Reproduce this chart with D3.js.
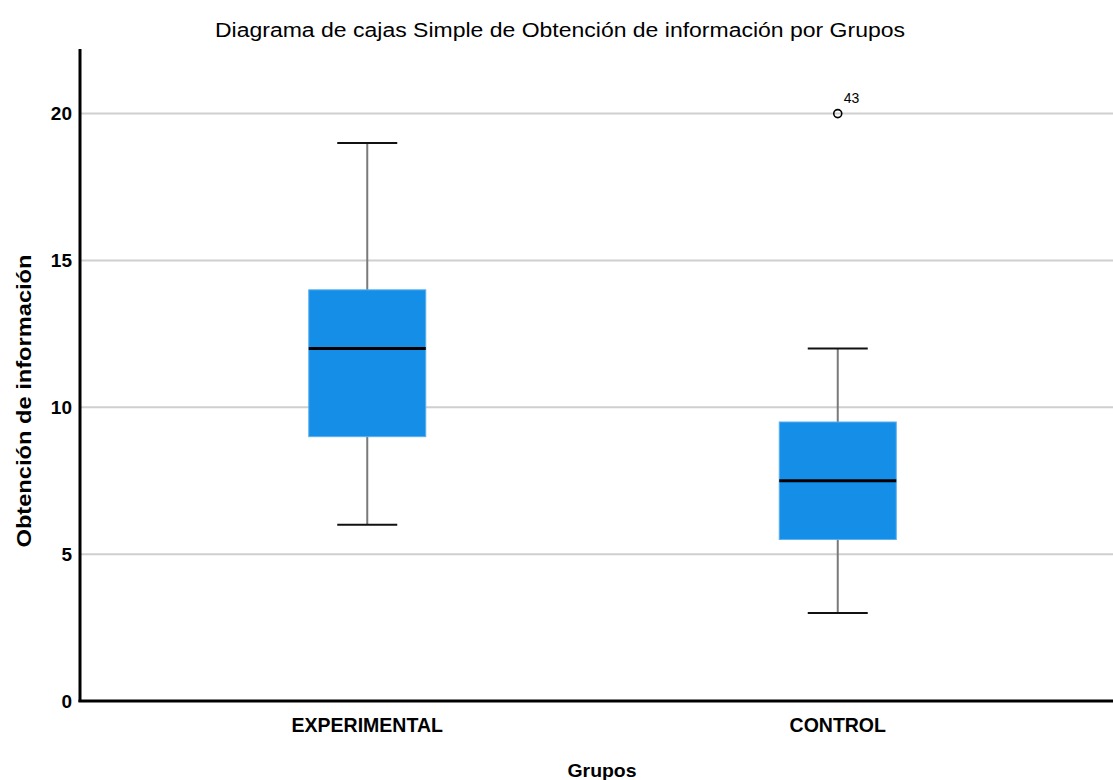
<!DOCTYPE html>
<html>
<head>
<meta charset="utf-8">
<script src="https://cdn.jsdelivr.net/npm/d3@7"></script>
<style>
  body { margin: 0; background: #fff; }
  text { font-family: "Liberation Sans", Arial, sans-serif; fill: #000; }
</style>
</head>
<body>
<div id="chart"></div>
<script>
// Box plot data
var groups = ["EXPERIMENTAL", "CONTROL"];
var whiskerLow = [6, 3];
var q1 = [9, 5.5];
var median = [12, 7.5];
var q3 = [14, 9.5];
var whiskerHigh = [19, 12];
var outliers = [{group: "CONTROL", value: 20, label: "43"}];
var yTicks = [0, 5, 10, 15, 20];

var width = 1113, height = 780;
var svg = d3.select("#chart").append("svg")
    .attr("width", width)
    .attr("height", height);

var x = d3.scaleBand().domain(groups).range([132, 1073]);
var y = d3.scaleLinear().domain([0, 22.2]).range([701, 49]);

var boxW = 117, capW = 60;

// gridlines
svg.append("g").selectAll("line")
  .data(yTicks.filter(function(d) { return d > 0; }))
  .enter().append("line")
  .attr("x1", 80).attr("x2", width)
  .attr("y1", function(d) { return y(d); })
  .attr("y2", function(d) { return y(d); })
  .style("stroke", "#cfcfcf")
  .style("stroke-width", 2);

// y tick labels
svg.append("g").selectAll("text")
  .data(yTicks)
  .enter().append("text")
  .attr("x", 72)
  .attr("y", function(d) { return y(d); })
  .attr("dy", "0.36em")
  .attr("text-anchor", "end")
  .style("font-size", "19px")
  .style("font-weight", "bold")
  .text(function(d) { return d; });

// boxes
var box = svg.append("g").selectAll("g")
  .data(groups)
  .enter().append("g");

box.append("line")
  .attr("x1", function(d) { return x(d) + x.bandwidth() / 2; })
  .attr("x2", function(d) { return x(d) + x.bandwidth() / 2; })
  .attr("y1", function(d, i) { return y(whiskerLow[i]); })
  .attr("y2", function(d, i) { return y(whiskerHigh[i]); })
  .style("stroke", "#7a7a7a")
  .style("stroke-width", 2);

box.append("line")
  .attr("x1", function(d) { return x(d) + x.bandwidth() / 2 - capW / 2; })
  .attr("x2", function(d) { return x(d) + x.bandwidth() / 2 + capW / 2; })
  .attr("y1", function(d, i) { return y(whiskerLow[i]); })
  .attr("y2", function(d, i) { return y(whiskerLow[i]); })
  .style("stroke", "#111")
  .style("stroke-width", 2);

box.append("line")
  .attr("x1", function(d) { return x(d) + x.bandwidth() / 2 - capW / 2; })
  .attr("x2", function(d) { return x(d) + x.bandwidth() / 2 + capW / 2; })
  .attr("y1", function(d, i) { return y(whiskerHigh[i]); })
  .attr("y2", function(d, i) { return y(whiskerHigh[i]); })
  .style("stroke", "#111")
  .style("stroke-width", 2);

box.append("rect")
  .attr("x", function(d) { return x(d) + x.bandwidth() / 2 - boxW / 2; })
  .attr("width", boxW)
  .attr("y", function(d, i) { return y(q3[i]); })
  .attr("height", function(d, i) { return y(q1[i]) - y(q3[i]); })
  .style("fill", "#148ee6")
  .style("stroke", "#5ab0ee")
  .style("stroke-width", 1);

box.append("line")
  .attr("x1", function(d) { return x(d) + x.bandwidth() / 2 - boxW / 2; })
  .attr("x2", function(d) { return x(d) + x.bandwidth() / 2 + boxW / 2; })
  .attr("y1", function(d, i) { return y(median[i]); })
  .attr("y2", function(d, i) { return y(median[i]); })
  .style("stroke", "#000")
  .style("stroke-width", 3);

// outliers
var out = svg.append("g").selectAll("g")
  .data(outliers)
  .enter().append("g");

out.append("circle")
  .attr("cx", function(d) { return x(d.group) + x.bandwidth() / 2; })
  .attr("cy", function(d) { return y(d.value); })
  .attr("r", 4)
  .style("fill", "none")
  .style("stroke", "#000")
  .style("stroke-width", 1.6);

out.append("text")
  .attr("x", function(d) { return x(d.group) + x.bandwidth() / 2 + 6; })
  .attr("y", function(d) { return y(d.value) - 11; })
  .style("font-size", "14px")
  .text(function(d) { return d.label; });

// axes lines
svg.append("line")
  .attr("x1", 80).attr("x2", 80)
  .attr("y1", 49).attr("y2", 702)
  .style("stroke", "#000").style("stroke-width", 3);
svg.append("line")
  .attr("x1", 78.5).attr("x2", width)
  .attr("y1", 701).attr("y2", 701)
  .style("stroke", "#000").style("stroke-width", 3);

// x category labels
svg.append("g").selectAll("text")
  .data(groups)
  .enter().append("text")
  .attr("x", function(d) { return x(d) + x.bandwidth() / 2; })
  .attr("y", 732)
  .attr("text-anchor", "middle")
  .style("font-size", "19.5px")
  .style("font-weight", "bold")
  .text(function(d) { return d; });

// titles
svg.append("text")
  .attr("x", 560)
  .attr("y", 37)
  .attr("text-anchor", "middle")
  .attr("textLength", 690)
  .attr("lengthAdjust", "spacingAndGlyphs")
  .style("font-size", "20px")
  .text("Diagrama de cajas Simple de Obtención de información por Grupos");

svg.append("text")
  .attr("x", 602)
  .attr("y", 777)
  .attr("text-anchor", "middle")
  .attr("textLength", 69)
  .attr("lengthAdjust", "spacingAndGlyphs")
  .style("font-size", "19px")
  .style("font-weight", "bold")
  .text("Grupos");

svg.append("text")
  .attr("transform", "translate(31,401) rotate(-90)")
  .attr("text-anchor", "middle")
  .attr("textLength", 293)
  .attr("lengthAdjust", "spacingAndGlyphs")
  .style("font-size", "20px")
  .style("font-weight", "bold")
  .text("Obtención de información");
</script>
</body>
</html>
